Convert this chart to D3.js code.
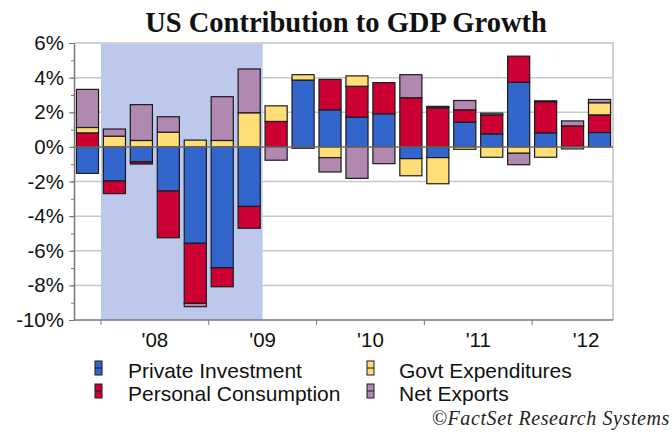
<!DOCTYPE html>
<html>
<head>
<meta charset="utf-8">
<script src="https://cdn.jsdelivr.net/npm/d3@7"></script>
<style>
  body { margin: 0; background: #fff; }
  svg { display: block; }
</style>
</head>
<body>
<script>
// quarters Q4 2007 .. Q3 2012
const quarters = ["2007Q4",
    "2008Q1", "2008Q2", "2008Q3", "2008Q4",
    "2009Q1", "2009Q2", "2009Q3", "2009Q4",
    "2010Q1", "2010Q2", "2010Q3", "2010Q4",
    "2011Q1", "2011Q2", "2011Q3", "2011Q4",
    "2012Q1", "2012Q2", "2012Q3"];

// contribution to GDP growth, percentage points
const privateInvestment = [-1.53, -1.97, -0.87, -2.55, -5.57, -6.98, -3.44, 0.0, 3.86, 2.14, 1.72, 1.91, -0.68, -0.62, 1.43, 0.75, 3.73, 0.81, 0.03, 0.83];
const personalConsumption = [0.81, -0.73, -0.12, -2.7, -3.47, -1.1, -1.26, 1.47, 0.0, 1.76, 1.78, 1.8, 2.84, 2.26, 0.71, 1.1, 1.51, 1.8, 1.18, 1.02];
const govtExpenditures = [0.31, 0.62, 0.37, 0.85, 0.39, 0.37, 1.97, 0.9, 0.31, -0.62, 0.6, 0.0, -0.99, -1.51, -0.14, -0.6, -0.37, -0.6, -0.12, 0.7];
const netExports = [2.2, 0.41, 2.07, 0.89, -0.19, 2.53, 2.53, -0.77, -0.08, -0.83, -1.82, -0.97, 1.33, 0.08, 0.54, 0.1, -0.66, 0.05, 0.29, 0.19];

const seriesNames = ["Private Investment", "Personal Consumption", "Govt Expenditures", "Net Exports"];
const yearLabels = ["'08", "'09", "'10", "'11", "'12"];
const recession = ["2008Q1", "2009Q2"];
const yTicks = [6, 4, 2, 0, -2, -4, -6, -8, -10];

const colors = ["#3366cc", "#cc0033", "#ffdd77", "#b088b0"];

const w = 672, h = 432;
const plot = { left: 74, right: 613, top: 43, bottom: 320 };

const svg = d3.select("body").append("svg")
    .attr("width", w)
    .attr("height", h);

// table for the stack
const table = quarters.map((q, i) => ({
    q: q,
    "Private Investment": privateInvestment[i],
    "Personal Consumption": personalConsumption[i],
    "Govt Expenditures": govtExpenditures[i],
    "Net Exports": netExports[i]
}));

const stacked = d3.stack()
    .keys(seriesNames)
    .offset(d3.stackOffsetDiverging)(table);

const xScale = d3.scaleBand()
    .domain(quarters)
    .range([plot.left, plot.right])
    .paddingInner(0.18)
    .paddingOuter(0.09);

const step = xScale.step();
const qStart = q => xScale(q) - xScale.paddingInner() * step / 2;

const yScale = d3.scaleLinear()
    .domain([-10, 6])
    .range([plot.bottom, plot.top]);

// gridlines
svg.append("g")
    .selectAll("line")
    .data(yTicks.filter(d => d != 0 && d != -10 && d != 6))
    .enter()
    .append("line")
    .attr("x1", plot.left)
    .attr("x2", plot.right)
    .attr("y1", d => yScale(d))
    .attr("y2", d => yScale(d))
    .attr("stroke", "#c8c8c8")
    .attr("stroke-width", 1.5);

// recession shading
svg.append("rect")
    .attr("x", qStart(recession[0]))
    .attr("y", plot.top)
    .attr("width", qStart(recession[1]) + step - qStart(recession[0]))
    .attr("height", plot.bottom - plot.top)
    .attr("fill", "#bcc8ec");

// frame top / right
svg.append("path")
    .attr("d", `M${plot.left},${yScale(6)}H${plot.right}V${plot.bottom}`)
    .attr("fill", "none")
    .attr("stroke", "#d0d0d0")
    .attr("stroke-width", 2);

// bars
svg.append("g")
    .selectAll("g")
    .data(stacked)
    .enter()
    .append("g")
    .attr("fill", (d, i) => colors[i])
    .selectAll("rect")
    .data(d => d.filter(p => p[1] - p[0] != 0))
    .enter()
    .append("rect")
    .attr("x", d => xScale(d.data.q))
    .attr("width", xScale.bandwidth())
    .attr("y", d => yScale(d[1]))
    .attr("height", d => yScale(d[0]) - yScale(d[1]))
    .attr("stroke", "#1c1c1c")
    .attr("stroke-width", 1.2);

// zero line
svg.append("line")
    .attr("x1", plot.left)
    .attr("x2", plot.right)
    .attr("y1", yScale(0))
    .attr("y2", yScale(0))
    .attr("stroke", "#6f6f6f")
    .attr("stroke-width", 1.5);

// y axis: minor ticks every 1%, major every 2%
svg.append("g")
    .attr("transform", "translate(" + plot.left + ",0)")
    .call(d3.axisLeft(yScale).tickValues(d3.range(-10, 7, 1)).tickSize(3).tickFormat(""))
    .call(g => g.select(".domain").remove())
    .selectAll("line").attr("stroke", "#777");

const yAxis = svg.append("g")
    .attr("transform", "translate(" + plot.left + ",0)")
    .call(d3.axisLeft(yScale).tickValues(yTicks).tickSize(5).tickSizeOuter(0).tickPadding(5)
        .tickFormat(d => d + "%"));
yAxis.select(".domain").attr("stroke", "#777").attr("stroke-width", 1.5);
yAxis.selectAll("line").attr("stroke", "#777");
yAxis.selectAll("text")
    .attr("fill", "#111")
    .style("font-family", "'Liberation Sans', Arial, sans-serif")
    .style("font-size", "20.5px");

// x axis with year boundary ticks
const yearStarts = quarters.filter(q => q.endsWith("Q1"));
svg.append("line")
    .attr("x1", plot.left)
    .attr("x2", plot.right)
    .attr("y1", plot.bottom)
    .attr("y2", plot.bottom)
    .attr("stroke", "#777")
    .attr("stroke-width", 1.5);

svg.append("g")
    .selectAll("line")
    .data(yearStarts)
    .enter()
    .append("line")
    .attr("x1", d => qStart(d))
    .attr("x2", d => qStart(d))
    .attr("y1", plot.bottom)
    .attr("y2", plot.bottom + 5)
    .attr("stroke", "#777");

svg.append("g")
    .selectAll("text")
    .data(yearStarts)
    .enter()
    .append("text")
    .attr("x", d => qStart(d) + step * 2)
    .attr("y", 347)
    .attr("text-anchor", "middle")
    .style("font-family", "'Liberation Sans', Arial, sans-serif")
    .style("font-size", "20.5px")
    .attr("fill", "#111")
    .text((d, i) => yearLabels[i]);

// title
svg.append("text")
    .attr("x", 346)
    .attr("y", 32)
    .attr("text-anchor", "middle")
    .style("font-family", "'Liberation Serif', 'Times New Roman', serif")
    .style("font-weight", "bold")
    .style("font-size", "28.5px")
    .attr("fill", "#111")
    .text("US Contribution to GDP Growth");

// legend
const legendPos = [[95, 128, 378], [95, 128, 401], [367, 399, 378], [367, 399, 401]];
const legend = svg.append("g")
    .selectAll("g")
    .data(seriesNames)
    .enter()
    .append("g");

legend.append("rect")
    .attr("x", (d, i) => legendPos[i][0])
    .attr("y", (d, i) => legendPos[i][2] - 17)
    .attr("width", 7)
    .attr("height", 14)
    .attr("fill", (d, i) => colors[i])
    .attr("stroke", "#1c1c1c")
    .attr("stroke-width", 1);

legend.append("line")
    .attr("x1", (d, i) => legendPos[i][0])
    .attr("x2", (d, i) => legendPos[i][0] + 7)
    .attr("y1", (d, i) => legendPos[i][2] - 10)
    .attr("y2", (d, i) => legendPos[i][2] - 10)
    .attr("stroke", "#1c1c1c")
    .attr("stroke-width", 1);

legend.append("text")
    .attr("x", (d, i) => legendPos[i][1])
    .attr("y", (d, i) => legendPos[i][2])
    .style("font-family", "'Liberation Sans', Arial, sans-serif")
    .style("font-size", "21px")
    .attr("fill", "#111")
    .text(d => d);

// source
svg.append("text")
    .attr("x", 670)
    .attr("y", 425)
    .attr("text-anchor", "end")
    .style("font-family", "'Liberation Serif', 'Times New Roman', serif")
    .style("font-style", "italic")
    .style("font-size", "20px")
    .style("letter-spacing", "0.6px")
    .attr("fill", "#222")
    .text("\u00A9FactSet Research Systems");
</script>
</body>
</html>
